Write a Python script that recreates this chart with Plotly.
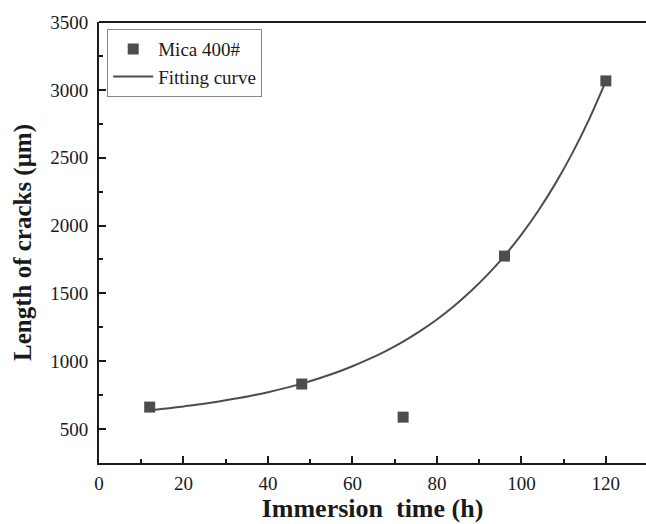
import plotly.graph_objects as go

# Measured data
time_h = [12, 48, 72, 96, 120]
crack_len = [662, 832, 588, 1775, 3066]

# Fitting curve
fit_x = [12, 16, 20, 24, 28, 32, 36, 40, 44, 48, 52, 56, 60, 64, 68, 72, 76, 80,
         84, 88, 92, 96, 100, 104, 108, 112, 116, 120]
fit_y = [640, 652, 667, 683, 702, 723, 746, 772, 802, 835, 873, 915, 963, 1017,
         1077, 1145, 1222, 1308, 1405, 1515, 1638, 1777, 1933, 2109, 2307, 2530,
         2781, 3064]

x_ticks = [0, 20, 40, 60, 80, 100, 120]
y_ticks = [500, 1000, 1500, 2000, 2500, 3000, 3500]

FONT = "Liberation Serif, Times New Roman, serif"
COL = "#4d4d4d"
TXT = "#1a1a1a"

fig = go.Figure()
fig.add_trace(go.Scatter(
    x=time_h, y=crack_len, mode="markers", name="Mica 400#",
    marker=dict(symbol="square", size=11, color=COL, line=dict(width=0)),
))
fig.add_trace(go.Scatter(
    x=fit_x, y=fit_y, mode="lines", name="Fitting curve",
    line=dict(color=COL, width=2, shape="spline"),
))

fig.update_layout(
    width=646, height=524,
    margin=dict(l=99, r=0, t=22, b=61),
    paper_bgcolor="white", plot_bgcolor="white",
    font=dict(family=FONT, size=19, color=TXT),
    showlegend=True,
    legend=dict(
        x=0.015, y=0.984, xanchor="left", yanchor="top",
        bgcolor="white", bordercolor="#888", borderwidth=1,
        font=dict(family=FONT, size=19, color=TXT),
        tracegroupgap=0, itemwidth=40,
    ),
    xaxis=dict(
        range=[0, 129.5], tickvals=x_ticks, ticks="inside", ticklen=7, tickwidth=1.5,
        tickcolor=TXT, showline=True, linecolor=TXT, linewidth=2,
        mirror=False, showgrid=False, zeroline=False, ticklabelstandoff=2,
        minor=dict(ticks="inside", ticklen=4, tickwidth=1.5, dtick=10, tickcolor=TXT),
        title=dict(text="<b>Immersion  time (h)</b>", font=dict(family=FONT, size=26), standoff=6),
        tickfont=dict(family=FONT, size=19, color=TXT),
    ),
    yaxis=dict(
        range=[250, 3500], tickvals=y_ticks, ticks="inside", ticklen=7, tickwidth=1.5,
        tickcolor=TXT, showline=True, linecolor=TXT, linewidth=2,
        showgrid=False, zeroline=False, ticklabelstandoff=5,
        minor=dict(ticks="inside", ticklen=4, tickwidth=1.5, dtick=250, tick0=250, tickcolor=TXT),
        title=dict(text="<b>Length of cracks (μm)</b>", font=dict(family=FONT, size=25), standoff=11),
        tickfont=dict(family=FONT, size=19, color=TXT),
    ),
)

# top frame line
fig.add_shape(type="line", xref="paper", yref="paper", x0=0, x1=1, y0=1, y1=1,
              line=dict(color=TXT, width=2))

fig.write_html("out.html")
